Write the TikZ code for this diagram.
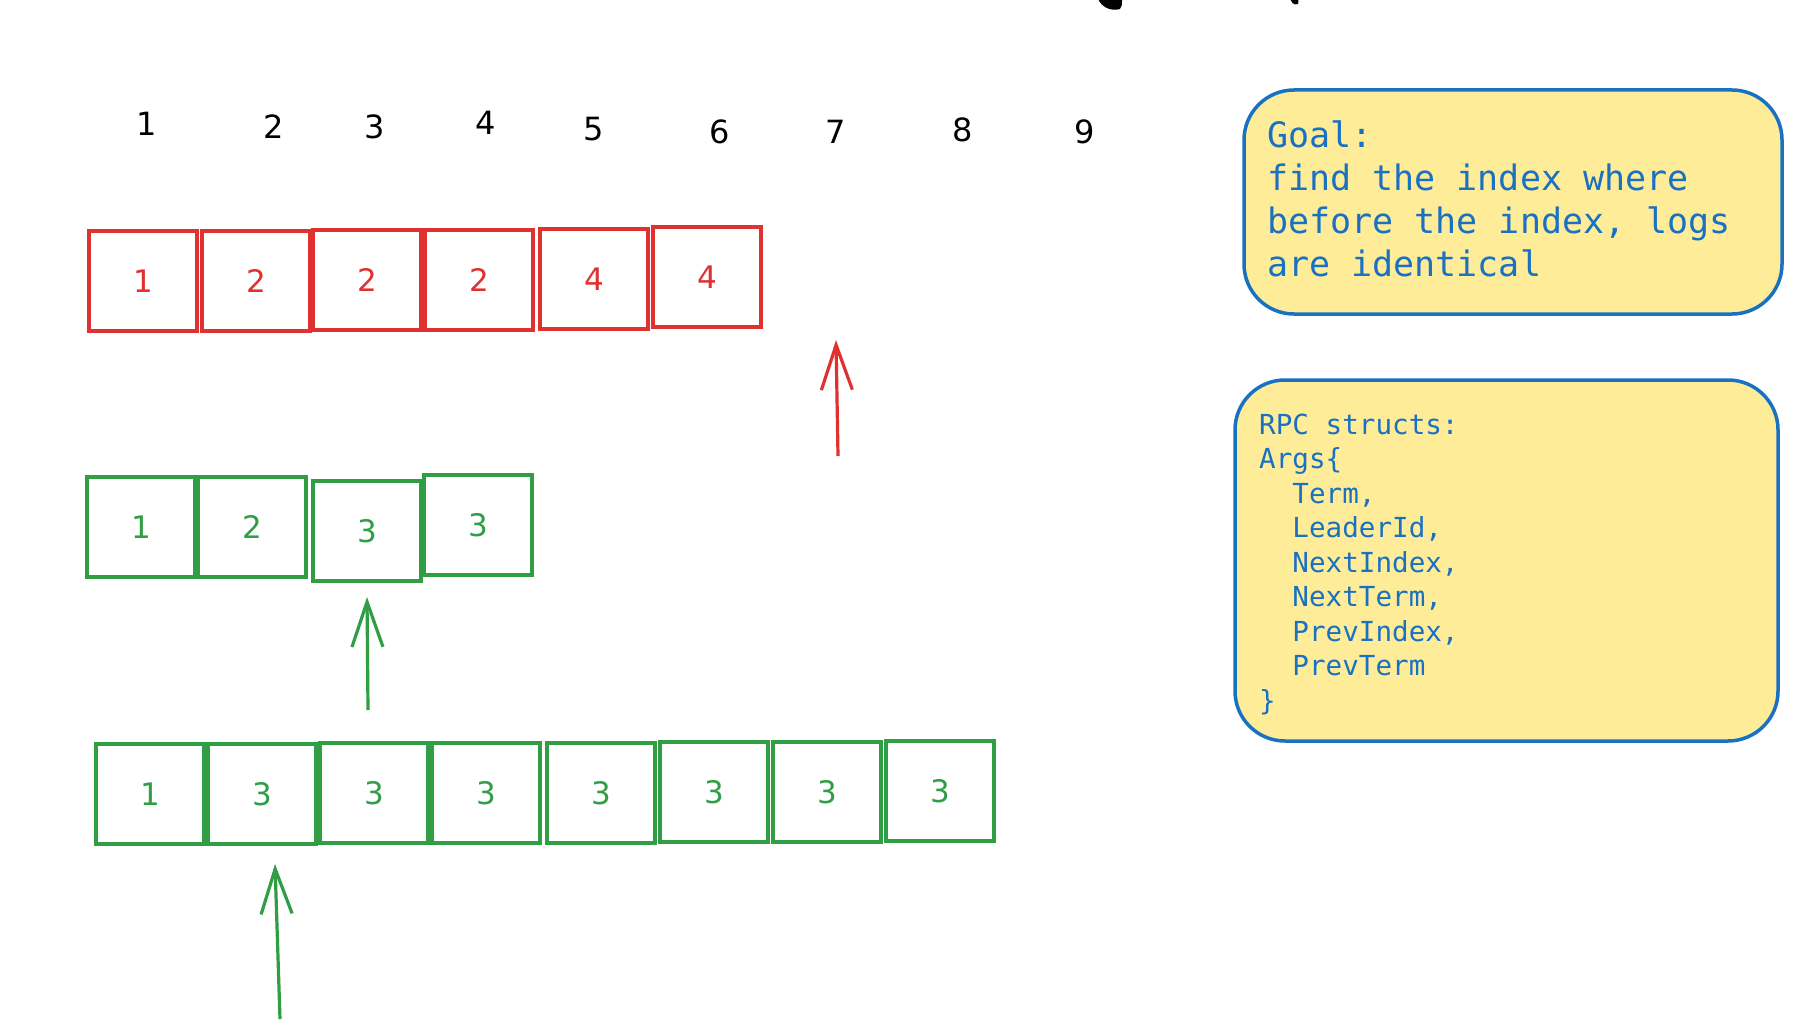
\documentclass[tikz,border=0pt]{standalone}
\usepackage{fontspec}
\setmainfont{DejaVu Sans}
\newfontfamily\codefont{DejaVu Sans Mono}
\usetikzlibrary{arrows.meta}
\definecolor{xred}{HTML}{E03131}
\definecolor{xgreen}{HTML}{2F9E44}
\definecolor{xblue}{HTML}{1971C2}
\definecolor{xyellow}{HTML}{FFEC99}
\begin{document}
\begin{tikzpicture}[x=1pt,y=-1pt,
  cell/.style={draw, line width=3.5pt, minimum width=108pt, minimum height=100pt, inner sep=0pt, font=\fontsize{31}{31}\selectfont},
  redcell/.style={cell, draw=xred, text=xred},
  greencell/.style={cell, draw=xgreen, text=xgreen},
  idx/.style={inner sep=0pt, font=\fontsize{32}{32}\selectfont, text=black},
  ptr/.style={line width=3.2pt, -{Straight Barb[length=45pt,width=31pt,line width=3.2pt]}},
  note/.style={draw=xblue, fill=xyellow, line width=3.5pt, rounded corners=50pt, inner sep=0pt},
  notetext/.style={inner sep=0pt, align=left, text=xblue, anchor=base west}
]
\useasboundingbox (0,0) rectangle (1806,1030);
\fill[white] (0,0) rectangle (1806,1030);

% cut-off title fragments at the top edge
\fill[black] (1097,-6) .. controls (1098,6) and (1110,12) .. (1120,9) .. controls (1124,4) and (1122,-4) .. (1118,-8) -- cycle;
\fill[black] (1290,-4) .. controls (1290,2) and (1294,6) .. (1298,4) .. controls (1299,1) and (1298,-3) .. (1296,-5) -- cycle;

% index row
\node[idx] (i1) at (147,124) {1};
\node[idx] (i2) at (274,127) {2};
\node[idx] (i3) at (375,127) {3};
\node[idx] (i4) at (486,123) {4};
\node[idx] (i5) at (594,129) {5};
\node[idx] (i6) at (720,132) {6};
\node[idx] (i7) at (836,132) {7};
\node[idx] (i8) at (963,130) {8};
\node[idx] (i9) at (1085,132) {9};

% red log
\node[redcell] (r1) at (143,281) {1};
\node[redcell] (r2) at (256,281) {2};
\node[redcell] (r3) at (367,280) {2};
\node[redcell] (r4) at (479,280) {2};
\node[redcell] (r5) at (594,279) {4};
\node[redcell] (r6) at (707,277) {4};

\coordinate (ra) at (838,456);
\coordinate (rb) at (836,340);
\draw[ptr, xred] (ra) -- (rb);

% green log (short)
\node[greencell] (g1) at (141,527) {1};
\node[greencell] (g2) at (252,527) {2};
\node[greencell] (g3) at (367,531) {3};
\node[greencell] (g4) at (478,525) {3};

\coordinate (ga) at (368,710);
\coordinate (gb) at (367,597);
\draw[ptr, xgreen] (ga) -- (gb);

% green log (long)
\node[greencell] (h1) at (150,794) {1};
\node[greencell] (h2) at (262,794) {3};
\node[greencell] (h3) at (374,793) {3};
\node[greencell] (h4) at (486,793) {3};
\node[greencell] (h5) at (601,793) {3};
\node[greencell] (h6) at (714,792) {3};
\node[greencell] (h7) at (827,792) {3};
\node[greencell] (h8) at (940,791) {3};

\coordinate (ha) at (280,1019);
\coordinate (hb) at (275,864);
\draw[ptr, xgreen] (ha) -- (hb);

% notes
\node[note, minimum width=538pt, minimum height=224pt] (goal) at (1513,202) {};
\node[notetext, font=\codefont\fontsize{35}{43}\selectfont] (goaltext) at (1267,276)
  {Goal:\\find the index where\\before the index, logs\\are identical};

\node[note, minimum width=543pt, minimum height=361pt] (rpc) at (1506.5,560.5) {};
\node[notetext, font=\codefont\fontsize{27.6}{34.5}\selectfont] (rpctext) at (1259,710)
  {RPC structs:\\Args\{\\\phantom{xx}Term,\\\phantom{xx}LeaderId,\\\phantom{xx}NextIndex,\\\phantom{xx}NextTerm,\\\phantom{xx}PrevIndex,\\\phantom{xx}PrevTerm\\\}};
\end{tikzpicture}
\end{document}
